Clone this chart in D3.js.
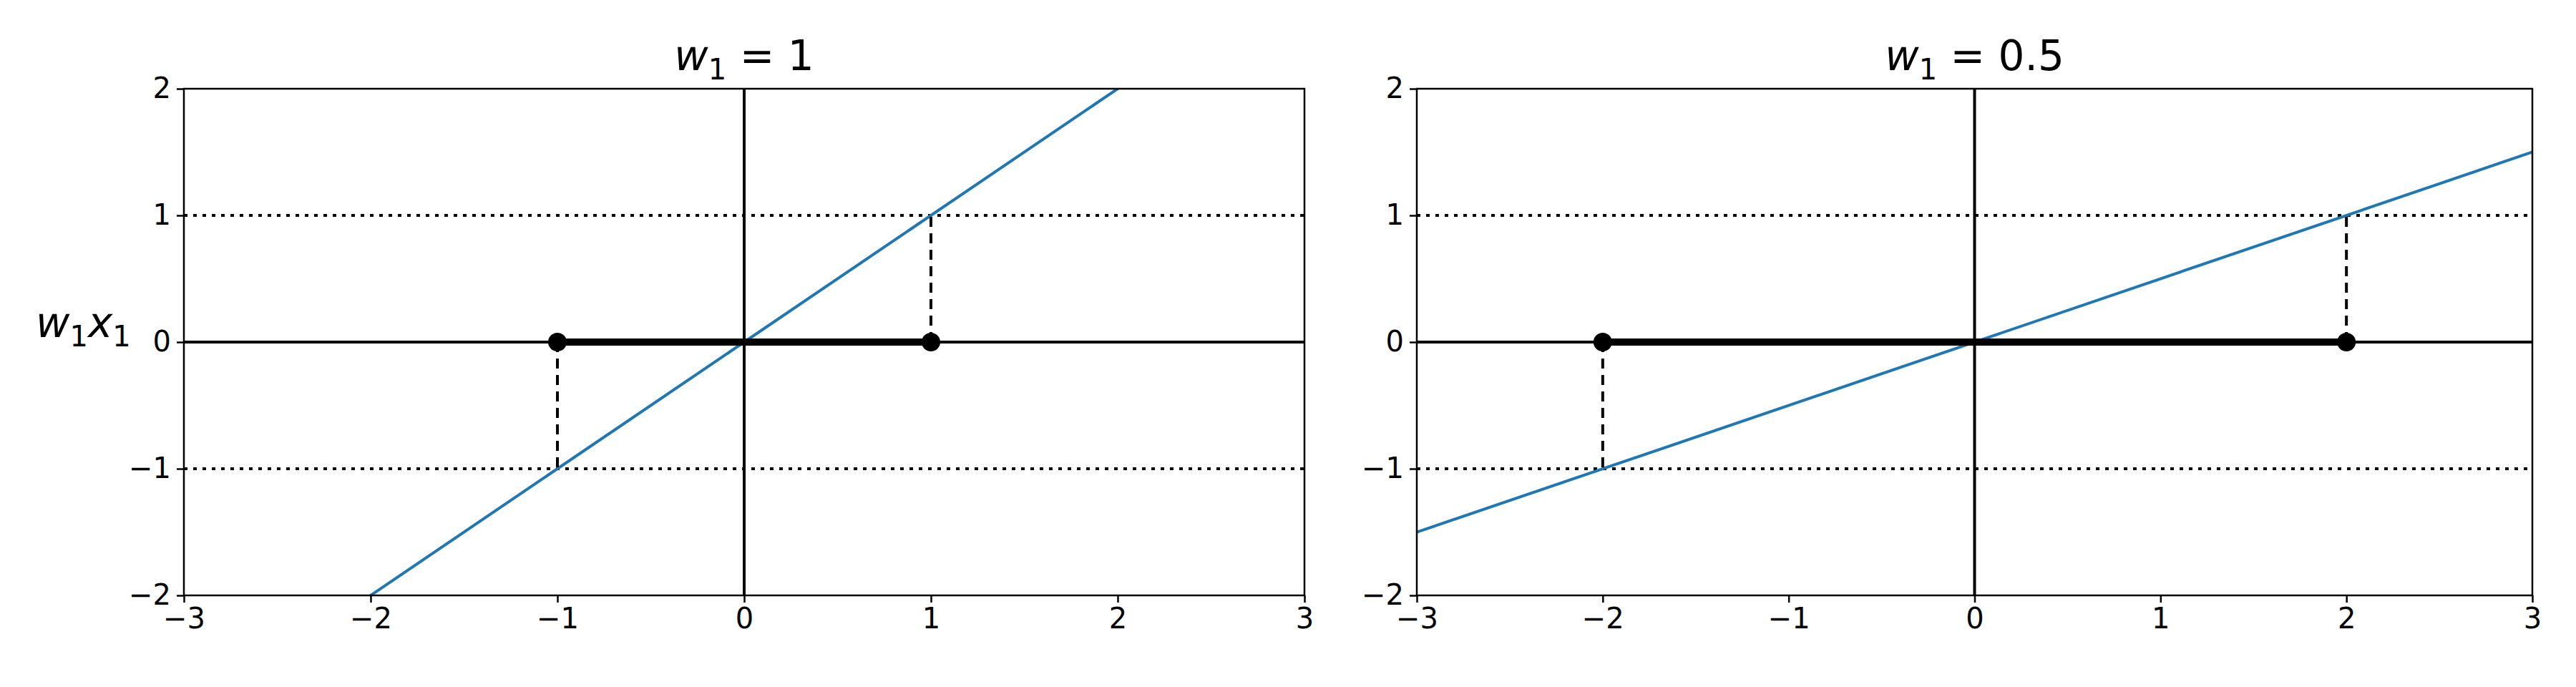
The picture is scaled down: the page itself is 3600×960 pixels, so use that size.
<!DOCTYPE html>
<html><head><meta charset="utf-8">
<script src="https://cdn.jsdelivr.net/npm/d3@7"></script>
<style>body{margin:0;background:#fff}text{font-family:"DejaVu Sans",sans-serif}</style>
</head><body><svg id="chart" width="3600" height="960"></svg>
<script>
// chart data
var weights = [1, 0.5];
var titles = ["1", "0.5"];
var xTicks = [-3, -2, -1, 0, 1, 2, 3];
var yTicks = [-2, -1, 0, 1, 2];
var lineX = [-3, 3];

var panels = [
  { left: 257, right: 1823 },
  { left: 1980, right: 3539 }
];
var plotTop = 124, plotBottom = 832;

var svg = d3.select("#chart");

function fmt(v) { return v < 0 ? "\u2212" + (-v) : String(v); }

weights.forEach(function (w, i) {
  var p = panels[i];
  var x = d3.scaleLinear().domain([-3, 3]).range([p.left, p.right]);
  var y = d3.scaleLinear().domain([-2, 2]).range([plotBottom, plotTop]);
  var g = svg.append("g");

  g.append("clipPath").attr("id", "clip" + i)
    .append("rect").attr("x", p.left).attr("y", plotTop)
    .attr("width", p.right - p.left).attr("height", plotBottom - plotTop);
  var plot = g.append("g").attr("clip-path", "url(#clip" + i + ")");

  // dotted levels at +-1
  [-1, 1].forEach(function (v) {
    plot.append("line").attr("x1", p.left).attr("x2", p.right)
      .attr("y1", y(v)).attr("y2", y(v))
      .attr("stroke", "#000").attr("stroke-width", 4).attr("stroke-dasharray", "5,8");
  });
  // axes through origin
  plot.append("line").attr("x1", p.left).attr("x2", p.right)
    .attr("y1", y(0)).attr("y2", y(0)).attr("stroke", "#000").attr("stroke-width", 4);
  plot.append("line").attr("x1", x(0)).attr("x2", x(0))
    .attr("y1", plotTop).attr("y2", plotBottom).attr("stroke", "#000").attr("stroke-width", 4);

  // blue line w*x
  plot.append("path")
    .datum(lineX)
    .attr("d", d3.line().x(function (d) { return x(d); }).y(function (d) { return y(w * d); }))
    .attr("fill", "none").attr("stroke", "#1f77b4").attr("stroke-width", 4);

  // dashed drops
  [-1 / w, 1 / w].forEach(function (xv) {
    plot.append("line").attr("x1", x(xv)).attr("x2", x(xv))
      .attr("y1", y(0)).attr("y2", y(w * xv))
      .attr("stroke", "#000").attr("stroke-width", 4).attr("stroke-dasharray", "14,9");
  });
  // thick segment and markers
  plot.append("line").attr("x1", x(-1 / w)).attr("x2", x(1 / w))
    .attr("y1", y(0)).attr("y2", y(0)).attr("stroke", "#000").attr("stroke-width", 10);
  [-1 / w, 1 / w].forEach(function (xv) {
    plot.append("circle").attr("cx", x(xv)).attr("cy", y(0)).attr("r", 13).attr("fill", "#000");
  });

  // frame
  g.append("rect").attr("x", p.left).attr("y", plotTop)
    .attr("width", p.right - p.left).attr("height", plotBottom - plotTop)
    .attr("fill", "none").attr("stroke", "#000").attr("stroke-width", 2.5);

  var xa = g.append("g").attr("transform", "translate(0," + plotBottom + ")")
    .call(d3.axisBottom(x).tickValues(xTicks).tickFormat(fmt).tickSize(10).tickPadding(8));
  var ya = g.append("g").attr("transform", "translate(" + p.left + ",0)")
    .call(d3.axisLeft(y).tickValues(yTicks).tickFormat(fmt).tickSize(10).tickPadding(8));
  [xa, ya].forEach(function (a) {
    a.select(".domain").remove();
    a.selectAll("line").attr("stroke-width", 2.5);
    a.selectAll("text").attr("font-size", 40).attr("fill", "#000");
  });

  // title
  var t = g.append("text").attr("x", (p.left + p.right) / 2).attr("y", 98)
    .attr("text-anchor", "middle").attr("font-size", 58).attr("fill", "#000");
  t.append("tspan").attr("font-style", "italic").text("w");
  t.append("tspan").attr("font-size", 40).attr("dy", 13).text("1");
  t.append("tspan").attr("dy", -13).text(" = " + titles[i]);
});

// y label
var yl = svg.append("text").attr("x", 50).attr("y", 471).attr("font-size", 58).attr("fill", "#000");
yl.append("tspan").attr("font-style", "italic").text("w");
yl.append("tspan").attr("font-size", 40).attr("dy", 13).text("1");
yl.append("tspan").attr("font-style", "italic").attr("dy", -13).text("x");
yl.append("tspan").attr("font-size", 40).attr("dy", 13).text("1");
</script></body></html>
